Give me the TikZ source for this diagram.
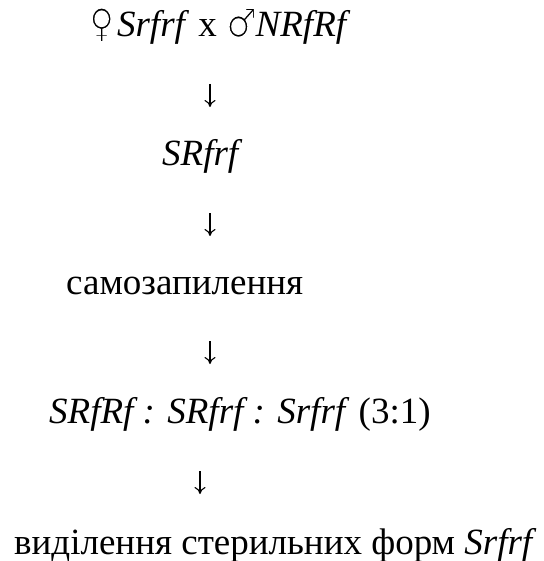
\documentclass[tikz,border=0pt]{standalone}
\usepackage{fontspec}
\setmainfont{Liberation Serif}
\newfontfamily\symfont{DejaVu Sans}
\usetikzlibrary{arrows.meta}
% thin-stroked sex symbol: glyph outline trimmed by a white stroke
\newcommand{\sexsym}[1]{{\symfont\fontsize{40}{44}\selectfont
  \special{pdf:literal direct 2 Tr 1 G 1.6 w}\scalebox{0.85}[1]{#1}\special{pdf:literal direct 0 Tr 0 G}}}
\begin{document}
\begin{tikzpicture}[x=1pt,y=-1pt,
  line/.style={anchor=base west,inner sep=0pt,font=\fontsize{37}{44}\selectfont},
  down/.style={-{To[length=7pt,width=11pt,line width=1.1pt]},line width=1.1pt}]
  \useasboundingbox (0,0) rectangle (543,561);
  % scheme lines
  \node[line] (p)   at (89,37)  {\sexsym{♀}\hspace{3pt}\textit{Srfrf} x \sexsym{♂}\hspace{-1pt}\textit{NRfRf}};
  \node[line] (f1)  at (162,166) {\textit{SRfrf}};
  \node[line] (sf)  at (66,294)  {самозапилення};
  \node[line] (f2)  at (49,423)  {\textit{SRfRf : SRfrf : Srfrf} (3:1)};
  \node[line] (sel) at (14,554)  {виділення стерильних форм \textit{Srfrf}};
  % arrow ends
  \coordinate (a1) at (210,84);  \coordinate (b1) at (210,107);
  \coordinate (a2) at (210,213); \coordinate (b2) at (210,236);
  \coordinate (a3) at (210,341); \coordinate (b3) at (210,364);
  \coordinate (a4) at (200,471); \coordinate (b4) at (200,494);
  \draw[down] (a1) -- (b1);
  \draw[down] (a2) -- (b2);
  \draw[down] (a3) -- (b3);
  \draw[down] (a4) -- (b4);
\end{tikzpicture}
\end{document}
